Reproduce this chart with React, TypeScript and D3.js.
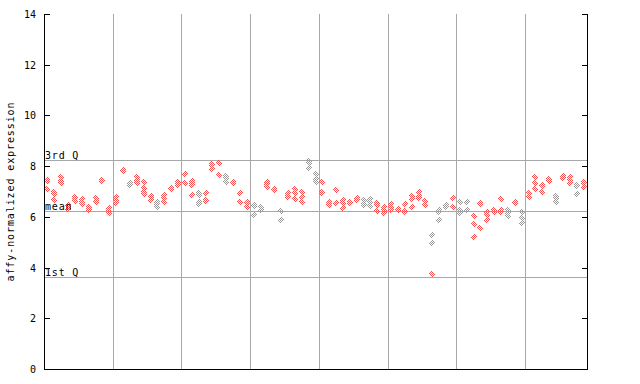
import React from "react";
import * as d3 from "d3";

const yTicks = [0, 2, 4, 6, 8, 10, 12, 14];
const quartiles = [
  { label: "3rd Q", value: 8.23 },
  { label: "mean", value: 6.23 },
  { label: "1st Q", value: 3.63 },
];
const groupBounds = [9.5, 19.5, 29.5, 39.5, 49.5, 59.5, 69.5];

// values per sample column
const sampleValues: number[][] = [
  [7.43, 7.47, 7.08],
  [6.99, 6.89, 6.93, 6.66],
  [7.56, 7.43, 7.32],
  [6.43, 6.47, 6.31],
  [6.75, 6.79, 6.64],
  [6.7, 6.6, 6.49],
  [6.4, 6.27, 6.31],
  [6.73, 6.6, 6.64],
  [7.43, 7.47],
  [6.34, 6.23, 6.14],
  [6.79, 6.66, 6.56],
  [7.81, 7.85],
  [7.32, 7.24],
  [7.58, 7.45, 7.32, 7.36],
  [7.37, 7.12, 6.99, 6.89],
  [6.77, 6.81, 6.66],
  [6.6, 6.49, 6.4],
  [6.86, 6.73, 6.6],
  [7.1, 7.14],
  [7.35, 7.39, 7.27],
  [7.69, 7.32],
  [7.43, 7.32, 7.24, 6.86],
  [6.96, 6.86, 6.6, 6.51],
  [6.96, 6.64, 6.68],
  [8.04, 8.08, 7.89],
  [8.11, 7.65],
  [7.61, 7.52, 7.39],
  [7.35, 7.39],
  [6.94, 6.57],
  [6.53, 6.57, 6.4],
  [6.44, 6.48, 6.06],
  [6.37, 6.27],
  [7.39, 7.28, 7.16],
  [7.06, 7.1],
  [6.25, 5.86],
  [6.93, 6.82, 6.77],
  [7.08, 6.95, 6.69],
  [6.99, 6.79, 6.57],
  [8.21, 8.11, 7.91],
  [7.7, 7.48, 7.39],
  [7.36, 6.93, 6.97],
  [6.6, 6.47, 6.51],
  [7.06, 6.56],
  [6.66, 6.56, 6.34],
  [6.6, 6.53, 6.57],
  [6.73, 6.66, 6.7],
  [6.66, 6.47, 6.51],
  [6.69, 6.6, 6.43],
  [6.56, 6.47, 6.23],
  [6.4, 6.27, 6.14],
  [6.51, 6.37, 6.27],
  [6.27, 6.31],
  [6.51, 6.2, 6.24],
  [6.82, 6.69, 6.37],
  [6.99, 6.82, 6.73],
  [6.64, 6.45],
  [5.27, 4.96, 3.73],
  [6.27, 6.19, 5.88],
  [6.47, 6.37],
  [6.73, 6.37],
  [6.6, 6.27, 6.14],
  [6.6, 6.27],
  [6.03, 5.72, 5.19],
  [6.49, 6.53, 5.55],
  [6.2, 6.07, 5.88],
  [6.29, 6.2],
  [6.69, 6.29, 6.2],
  [6.29, 6.14, 6.03],
  [6.53, 6.57],
  [6.2, 5.97, 5.75],
  [6.93, 6.77],
  [7.56, 7.32, 7.08],
  [7.23, 7.27, 6.97],
  [7.5, 7.43, 7.47],
  [6.82, 6.73, 6.6],
  [7.61, 7.52, 7.56],
  [7.58, 7.45, 7.32],
  [7.23, 7.27, 6.9],
  [7.32, 7.36, 7.16],
];

// columns drawn in grey (from picture)
const greyColumns = [12, 16, 22, 26, 30, 31, 34, 38, 39, 46, 47, 57, 58, 60, 61, 67, 69, 74, 77];
const greyPointsExtra = [[56, 0], [56, 1]];

const W = 640;
const H = 384;
const left = 44;
const right = 587;
const top = 14;
const bottom = 369;
const FONT = "'DejaVu Sans Mono', monospace";

export default function App() {
  const x = d3.scaleLinear().domain([-0.5, sampleValues.length - 0.5]).range([left, right]);
  const y = d3.scaleLinear().domain([0, 14]).range([bottom, top]);

  const pts: { cx: number; cy: number; grey: boolean }[] = [];
  sampleValues.forEach((vals, i) => {
    vals.forEach((v, j) => {
      const grey =
        greyColumns.includes(i) || greyPointsExtra.some(([a, b]) => a === i && b === j);
      pts.push({ cx: Math.round(x(i)), cy: Math.round(y(v)), grey });
    });
  });

  const diamond = (cx: number, cy: number) => {
    const r = 3.6;
    return `M${cx},${cy - r}L${cx + r},${cy}L${cx},${cy + r}L${cx - r},${cy}Z`;
  };

  return (
    <svg
      width={W}
      height={H}
      style={{ position: "absolute", left: 0, top: 0, background: "#fff" }}
      shapeRendering="crispEdges"
    >
      <defs>
        <pattern id="dRed" width={2} height={2} patternUnits="userSpaceOnUse">
          <rect x={0} y={0} width={1} height={1} fill="#ff4d4d" />
          <rect x={1} y={1} width={1} height={1} fill="#ff4d4d" />
        </pattern>
        <pattern id="dGrey" width={2} height={2} patternUnits="userSpaceOnUse">
          <rect x={0} y={0} width={1} height={1} fill="#999999" />
          <rect x={1} y={1} width={1} height={1} fill="#999999" />
        </pattern>
      </defs>
      <rect x={0} y={0} width={W} height={H} fill="#fff" />
      {groupBounds.map((g) => (
        <line
          key={g}
          x1={Math.round(x(g)) + 0.5}
          x2={Math.round(x(g)) + 0.5}
          y1={top}
          y2={bottom}
          stroke="#a8a8a8"
          strokeWidth={1}
        />
      ))}
      {quartiles.map((q) => (
        <line
          key={q.label}
          x1={left}
          x2={right}
          y1={Math.round(y(q.value)) + 0.5}
          y2={Math.round(y(q.value)) + 0.5}
          stroke="#a8a8a8"
          strokeWidth={1}
        />
      ))}
      {pts.map((p, k) => (
        <path key={k} d={diamond(p.cx, p.cy)} fill={p.grey ? "url(#dGrey)" : "url(#dRed)"} />
      ))}
      {quartiles.map((q) => (
        <text
          key={q.label + "t"}
          x={left + 1}
          y={Math.round(y(q.value)) - 1}
          fontFamily={FONT}
          fontSize={10}
          letterSpacing={0.8}
          fill="#000"
        >
          {q.label}
        </text>
      ))}
      <line x1={left + 0.5} x2={left + 0.5} y1={top} y2={bottom + 1} stroke="#000" />
      <line x1={right + 0.5} x2={right + 0.5} y1={top} y2={bottom + 1} stroke="#000" />
      <line x1={left} x2={right + 1} y1={bottom + 0.5} y2={bottom + 0.5} stroke="#000" />
      {yTicks.map((t) => (
        <g key={t}>
          <line
            x1={left}
            x2={left + 6}
            y1={Math.round(y(t)) + 0.5}
            y2={Math.round(y(t)) + 0.5}
            stroke="#000"
          />
          <line
            x1={right - 5}
            x2={right + 1}
            y1={Math.round(y(t)) + 0.5}
            y2={Math.round(y(t)) + 0.5}
            stroke="#000"
          />
          <text
            x={36}
            y={Math.round(y(t)) + 4}
            textAnchor="end"
            fontFamily={FONT}
            fontSize={10}
            fill="#000"
          >
            {t}
          </text>
        </g>
      ))}
      <text
        transform={`translate(14,${(top + bottom) / 2}) rotate(-90)`}
        textAnchor="middle"
        fontFamily={FONT}
        fontSize={10}
        letterSpacing={0.9}
        fill="#000"
      >
        affy-normalized expression
      </text>
    </svg>
  );
}
